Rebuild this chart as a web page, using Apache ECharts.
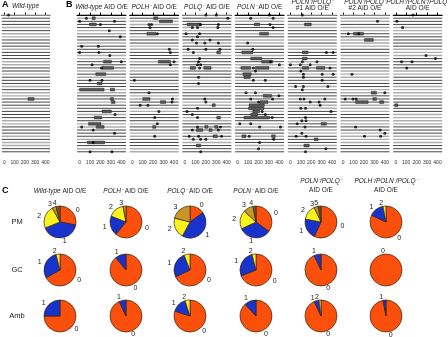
<!DOCTYPE html>
<html><head><meta charset="utf-8">
<script src="https://cdn.jsdelivr.net/npm/echarts@6/dist/echarts.min.js"></script>
<style>html,body{margin:0;padding:0;background:#fff}#c{width:448px;height:337px}</style>
</head><body><div id="c"></div>
<script>
// ---------- DATA ----------
const tickValues = [0, 100, 200, 300, 400];
// line shading per sequence (1 = grey clone line, 0 = black)
const shadeA   = "100010110001000110010001011000100011000101100";
const shadeWT  = "010001100100011000101000110010001001100010010";
const shadeH   = "001100010011000101100010001100110001001100011";
const shadeQ   = "100011000100110001000101100011000110001011000";
const shadeN   = "011000101100010011000100110001010001100100110";
const shadeNQ1 = "100110001011000110010001100101100010011000101";
const shadeNQ2 = "111011001110011000111100110001110011001111000";
const shadeHNQ = "000011100001110000110001111000001111000111000";
// point mutations [position, sequence]
const dotsA = [[40,0]];
const dotsWT = [[65,1],[0,2],[335,2],[200,3],[285,5],[390,7],[20,10],[180,10],[0,12],[185,12],[290,13],[400,15],[120,16],[210,17],[100,21],[215,21],[340,32],[20,36],[130,37],[335,38],[130,41],[100,44],[310,44]];
const dotsH = [[185,3],[160,3],[170,4],[240,6],[355,11],[365,12],[400,15],[365,16],[20,21],[160,25],[385,27],[75,29],[150,29],[380,28],[255,31],[215,33],[240,35],[215,39]];
const dotsQ = [[200,0],[300,0],[410,1],[150,3],[320,3],[70,4],[120,4],[315,4],[10,6],[140,6],[120,7],[70,8],[240,8],[110,9],[190,9],[320,9],[30,11],[200,11],[335,11],[80,12],[140,14],[130,15],[120,16],[150,16],[140,17],[130,20],[130,22],[190,27],[200,28],[120,30],[20,31],[70,32],[120,33],[120,36],[340,36],[70,37],[320,37],[40,39],[130,39],[350,39],[80,40],[150,40],[200,40],[150,44]];
const dotsN = [[305,0],[125,1],[340,1],[310,3],[340,4],[95,9],[145,11],[315,15],[400,16],[150,17],[170,18],[150,21],[265,21],[80,25],[170,25],[395,26],[125,27],[335,27],[200,28],[235,31],[265,32],[330,33],[20,35],[125,35],[210,36],[410,36],[110,39],[345,40],[210,41],[200,43]];
const dotsNQ1 = [[115,0],[345,12],[410,12],[115,15],[255,15],[95,16],[0,16],[190,16],[100,18],[380,17],[125,19],[305,19],[410,19],[125,20],[305,21],[50,23],[125,23],[360,23],[115,24],[95,27],[130,27],[330,27],[190,28],[275,28],[285,29],[100,30],[145,30],[390,31],[145,33],[150,34],[110,34],[65,35],[140,36],[110,38],[150,39],[55,39],[340,43],[145,44]];
const dotsNQ2 = [[330,2],[50,6],[150,6],[85,19],[400,25],[20,27],[95,27],[125,27],[120,36],[355,37],[400,38],[205,39],[360,39]];
const dotsHNQ = [[165,0],[10,2],[65,4],[290,13],[380,14],[55,15],[155,15],[105,17]];
// deletions / clustered mutations [start, end, sequence]
const barsA = [[230,290,27]];
const barsWT = [[120,150,1],[95,160,3],[230,305,15],[215,325,17],[155,250,19],[170,215,22],[0,235,24],[295,335,24],[295,325,27],[305,340,28],[215,305,31],[140,210,33],[85,205,35],[160,235,36],[75,240,41]];
const barsH = [[205,245,1],[260,385,2],[140,225,6],[250,365,15],[100,170,27],[270,320,28],[195,225,36]];
const barsQ = [[20,150,3],[305,340,12],[50,100,17],[180,250,17],[260,290,29],[305,340,33],[190,220,36],[285,315,36],[110,170,37],[230,260,37],[270,310,39],[110,150,42]];
const barsN = [[160,210,3],[210,295,6],[40,145,12],[125,230,14],[230,335,15],[30,125,17],[170,300,17],[50,130,19],[60,120,20],[245,325,26],[215,290,28],[110,255,29],[105,250,30],[145,210,31],[125,190,32],[60,305,33],[40,80,39],[325,360,39]];
const barsNQ1 = [[135,200,3],[115,170,12],[115,160,14],[115,175,17],[250,330,17],[295,345,35],[230,265,40],[130,180,42]];
const barsNQ2 = [[100,195,6],[205,290,8],[270,320,25],[285,320,27],[120,240,28],[350,390,28]];
const barsHNQ = [[-10,20,29]];

// pie categories (number of mutations per sequence)
const pieCats = ['0','1','2','3','4','5'];
const pieRows = ['PM','GC','Amb'];
const pmWT=[28,41,23,4,4,0], pmH=[61,20,16,3,0,0], pmQ=[15,43,21,21,0,0], pmN=[35,33,19,10,3,0], pmNQ=[57,21,15,4,0,3], pmHNQ=[82,15,3,0,0,0];
const gcWT=[67,29,4,0,0,0], gcH=[89,11,0,0,0,0], gcQ=[68,26,6,0,0,0], gcN=[69,27,4,0,0,0], gcNQ=[93,7,0,0,0,0], gcHNQ=[100,0,0,0,0,0];
const amWT=[75,25,0,0,0,0], amH=[93,7,0,0,0,0], amQ=[80,15,5,0,0,0], amN=[88,12,0,0,0,0], amNQ=[93,5,2,0,0,0], amHNQ=[97,3,0,0,0,0];

// ---------- LAYOUT / STYLE ----------
const FONT = 'Liberation Sans';
const pieColors = ['#fb4f0c','#1733cc','#fbf31e','#c9952a','#7d5431','#6a4a2c'];
const panels = [
  {L:1,   shade:shadeA,   dots:dotsA,   bars:barsA},
  {L:77,  shade:shadeWT,  dots:dotsWT,  bars:barsWT},
  {L:129.7,shade:shadeH,  dots:dotsH,   bars:barsH},
  {L:182.4,shade:shadeQ,  dots:dotsQ,   bars:barsQ},
  {L:235.1,shade:shadeN,  dots:dotsN,   bars:barsN},
  {L:287.8,shade:shadeNQ1,dots:dotsNQ1, bars:barsNQ1},
  {L:340.5,shade:shadeNQ2,dots:dotsNQ2, bars:barsNQ2},
  {L:393.2,shade:shadeHNQ,dots:dotsHNQ, bars:barsHNQ}
];
const PW = 49;
const grid=[], xAxis=[], yAxis=[], series=[];
panels.forEach((p,k)=>{
  grid.push({left:p.L, top:12, width:PW, height:146});
  xAxis.push({gridIndex:k, type:'value', min:-25, max:445,
    axisLine:{show:true, lineStyle:{color:'#000', width:1}},
    axisTick:{show:true, inside:true, length:2.5, customValues:tickValues, lineStyle:{color:'#000', width:1}},
    axisLabel:{show:true, customValues:tickValues, fontSize:5, margin:2.5, color:'#333', fontFamily:FONT},
    splitLine:{show:false}});
  yAxis.push({gridIndex:k, type:'value', min:-1, max:46, inverse:true, show:false});
  series.push({type:'custom', xAxisIndex:k, yAxisIndex:k, silent:true, animation:false, z:1,
    data: p.shade.split('').map((c,i)=>[0,i,+c]),
    encode:{x:0,y:1},
    renderItem:(params,api)=>{
      const y = api.coord([0, api.value(1)])[1];
      const cs = params.coordSys; const g = api.value(2)===1;
      return {type:'line', shape:{x1:cs.x, y1:y, x2:cs.x+cs.width, y2:y},
        style:{stroke: g?'#adadad':'#151515', lineWidth: g?1.4:0.8}};
    }});
  series.push({type:'custom', xAxisIndex:k, yAxisIndex:k, silent:true, animation:false, z:2,
    data:p.bars, encode:{x:[0,1], y:2},
    renderItem:(params,api)=>{
      const a = api.coord([api.value(0), api.value(2)]);
      const b = api.coord([api.value(1), api.value(2)]);
      return {type:'rect', shape:{x:a[0], y:a[1]-1.4, width:b[0]-a[0], height:2.8},
        style:{fill:'#555', stroke:'#111', lineWidth:0.4}};
    }});
  series.push({type:'scatter', xAxisIndex:k, yAxisIndex:k, silent:true, animation:false, z:3,
    data:p.dots, symbol:'circle', symbolSize:3, itemStyle:{color:'#000'}});
});

const pieX = [60,126,190,256,321,386];
const pieY = [222,270,316];
const pieTable = [
  [pmWT,pmH,pmQ,pmN,pmNQ,pmHNQ],
  [gcWT,gcH,gcQ,gcN,gcNQ,gcHNQ],
  [amWT,amH,amQ,amN,amNQ,amHNQ]
];
pieTable.forEach((row,r)=>row.forEach((vals,c)=>{
  const single = vals.filter(v=>v>0).length===1;
  series.push({type:'pie', center:[pieX[c], pieY[r]], radius:16,
    startAngle: single ? -90 : 90, clockwise:true, avoidLabelOverlap:false,
    silent:true, animation:false,
    data: vals.map((v,i)=>({name:pieCats[i], value:v, itemStyle:{color:pieColors[i]}})).filter(d=>d.value>0),
    label:{show:true, position:'outside', formatter:'{b}', fontSize:7, color:'#222', fontFamily:FONT, distanceToLabelLine:1},
    labelLine:{show:false, length:3, length2:0},
    itemStyle:{borderColor:'#3a2412', borderWidth:0.7},
    emphasis:{disabled:true}
  });
}));

// ---------- TEXT ----------
const rich = {
  i:{fontStyle:'italic', fontSize:6.5, fontFamily:FONT, fill:'#222'},
  n:{fontSize:6.5, fontFamily:FONT, fill:'#222'}
};
function txt(x,y,text,opts){
  return Object.assign({type:'text', x:x, y:y, silent:true,
    style:Object.assign({text:text, align:'center', verticalAlign:'middle', fontSize:6.5, fontFamily:FONT, fill:'#222', rich:rich}, opts||{})});
}
const mid = k => panels[k].L + PW/2;
const graphic = [
  txt(2,5,'A',{align:'left', fontSize:9, fontWeight:'bold', fill:'#000'}),
  txt(mid(0),6,'{i|Wild-type}'),
  txt(66,5,'B',{align:'left', fontSize:9, fontWeight:'bold', fill:'#000'}),
  txt(mid(1),7,'{i|Wild-type}{n| AID O/E}'),
  txt(mid(2),7,'{i|POLH⁻}{n| AID O/E}'),
  txt(mid(3),7,'{i|POLQ⁻}{n| AID O/E}'),
  txt(mid(4),7,'{i|POLN⁻}{n| AID O/E}'),
  txt(mid(5),2,'{i|POLN⁻/POLQ⁻}'),
  txt(mid(5),8,'{n|#1 AID O/E}'),
  txt(mid(6),2,'{i|POLN⁻/POLQ⁻}'),
  txt(mid(6),8,'{n|#2 AID O/E}'),
  txt(mid(7),2,'{i|POLH⁻/POLN⁻/POLQ⁻}'),
  txt(mid(7),8,'{n|AID O/E}'),
  txt(2,191,'C',{align:'left', fontSize:9, fontWeight:'bold', fill:'#000'}),
  txt(pieX[0],191,'{i|Wild-type}{n| AID O/E}'),
  txt(pieX[1],191,'{i|POLH⁻}{n| AID O/E}'),
  txt(pieX[2],191,'{i|POLQ⁻}{n| AID O/E}'),
  txt(pieX[3],191,'{i|POLN⁻}{n| AID O/E}'),
  txt(pieX[4],181,'{i|POLN⁻/POLQ⁻}'),
  txt(pieX[4],190,'{n|AID O/E}'),
  txt(pieX[5],181,'{i|POLH⁻/POLN⁻/POLQ⁻}'),
  txt(pieX[5],190,'{n|AID O/E}')
];
pieRows.forEach((name,r)=>graphic.push(txt(17,pieY[r],name,{fontSize:7.5})));

const chart = echarts.init(document.getElementById('c'), null, {renderer:'canvas'});
chart.setOption({animation:false, grid, xAxis, yAxis, series, graphic});
</script></body></html>
